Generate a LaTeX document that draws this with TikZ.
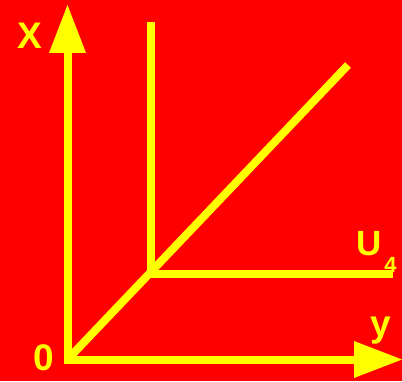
\documentclass[tikz,border=0pt]{standalone}
\usepackage{fontspec}
\setmainfont{Liberation Sans}
\usetikzlibrary{arrows.meta}
\definecolor{bgred}{RGB}{255,0,0}
\definecolor{ylw}{RGB}{255,255,0}
\begin{document}
\begin{tikzpicture}[x=1pt,y=1pt,
  axis/.style={ylw,line width=8pt,-{Triangle[length=48pt,width=37pt,line width=0pt]}},
  seg/.style={ylw,line width=8pt},
  lbl/.style={ylw,font=\fontsize{37}{40}\selectfont\bfseries,inner sep=0pt,anchor=base}]
\fill[bgred] (0,0) rectangle (402,381);
\useasboundingbox (0,0) rectangle (402,381);
\coordinate (O) at (67.5,21.5);
\coordinate (Xtip) at (67.5,376);
\coordinate (Ytip) at (402,21.5);
\coordinate (D) at (348,316);
\coordinate (Vtop) at (150.7,359);
\coordinate (K) at (150.7,107.5);
\coordinate (Hend) at (392.7,107.5);
\node[lbl] (xl) at (29.5,332) {X};
\node[lbl] (zl) at (44,11) {0};
\node[lbl] (yl) at (381,45) {y};
\node[lbl,anchor=base west,font=\fontsize{35}{38}\selectfont\bfseries] (ul) at (356,126) {U\hspace{3pt}\raisebox{-18pt}{\fontsize{22}{22}\selectfont\bfseries 4}};
\draw[seg] (O) -- (D);
\draw[seg] (Vtop) -- (K);
\draw[seg] ([xshift=-4pt]K) -- (Hend);
\draw[axis] ([yshift=-4pt]O) -- (Xtip);
\draw[axis] ([xshift=-4pt]O) -- (Ytip);
\end{tikzpicture}
\end{document}
